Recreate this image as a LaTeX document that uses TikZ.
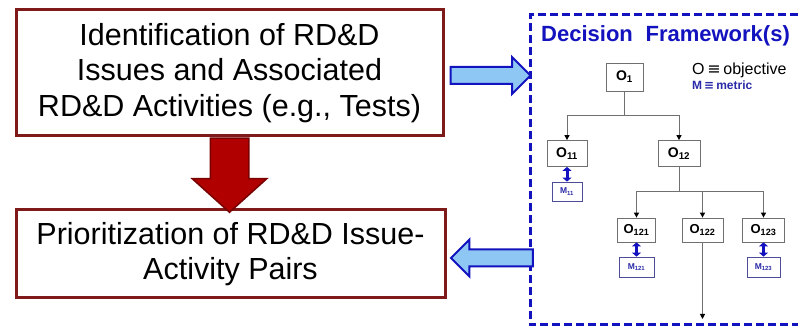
\documentclass[tikz,border=0pt]{standalone}
\usepackage{fontspec}
\setmainfont{Liberation Sans}
\newfontfamily\symfont{DejaVu Sans}
\usetikzlibrary{calc,shapes.arrows,arrows.meta}

\definecolor{boxred}{HTML}{7F1A1A}
\definecolor{arrred}{HTML}{B00000}
\definecolor{arrredline}{HTML}{780000}
\definecolor{fwblue}{HTML}{1212BE}
\definecolor{lblue}{HTML}{8EC6F4}
\definecolor{treegray}{HTML}{707070}
\definecolor{mblue}{HTML}{2A2AA8}

\tikzset{
  bigbox/.style={draw=boxred, line width=3pt, align=center, inner sep=0pt,
    font=\fontsize{30.5}{35.5}\selectfont},
  obox/.style={draw=treegray, line width=0.8pt, fill=white, inner sep=1pt,
    minimum height=26pt, font=\fontsize{14}{15}\bfseries},
  mbox/.style={draw=mblue!60!gray, line width=0.8pt, inner sep=1pt,
    minimum height=19pt, text=mblue, font=\fontsize{8.5}{9}\bfseries},
  tree/.style={draw=treegray, line width=1pt,
    -{Triangle[length=5pt,width=5pt,color=black]}},
  mlink/.style={draw=fwblue, line width=3pt,
    {Triangle[length=4pt,width=9pt]}-{Triangle[length=4pt,width=9pt]}},
  fatarrow/.style={single arrow, draw=fwblue, fill=lblue, line width=2pt,
    inner xsep=0pt, inner ysep=7.5pt, minimum width=35pt,
    single arrow head extend=10pt, single arrow tip angle=90},
  redarrow/.style={single arrow, draw=arrredline, fill=arrred, line width=1.5pt,
    inner xsep=0pt, inner ysep=18.5pt, minimum width=73pt,
    single arrow head extend=18pt, single arrow tip angle=96}
}

\begin{document}
\begin{tikzpicture}[x=1pt,y=-1pt]
\useasboundingbox (0,0) rectangle (798,328);

% left column
\node[bigbox, minimum width=427pt, minimum height=126pt] (ident) at (229.5,73)
  {Identification of RD\&D\\Issues and Associated\\RD\&D Activities (e.g., Tests)};
\node[bigbox, minimum width=429pt, minimum height=88pt] (prior) at (230.5,254)
  {Prioritization of RD\&D Issue-\\Activity Pairs};
\node[redarrow, rotate=-90, anchor=tail, minimum height=74pt] (down) at (ident.south) {};

% decision framework
\draw[fwblue, line width=3pt, dash pattern=on 8pt off 4pt]
  (798,15) -- (530,15) -- (530,325) -- (798,325);
\node[anchor=base west, inner sep=0pt, text=fwblue,
  font=\fontsize{22}{24}\bfseries] (title) at (541,42) {Decision\hspace{0.3em} Framework(s)};
\node[anchor=base west, inner sep=0pt, font=\fontsize{16}{18}\selectfont] (legO) at (692,75)
  {O\,{\symfont ≡}\,objective};
\node[anchor=base west, inner sep=0pt, text=mblue, font=\fontsize{12}{13}\bfseries] (legM) at (692,90)
  {M\,{\symfont ≡}\,metric};

\node[fatarrow, anchor=tail, minimum height=80pt] (toFw) at ([xshift=5pt,yshift=-2.5pt]ident.east) {};
\node[fatarrow, rotate=180, anchor=tip, minimum height=82pt] (fromFw) at ([xshift=3pt,yshift=-4pt]prior.east) {};

% objectives
\node[obox, minimum width=37pt, minimum height=28pt] (o1) at (624.5,77) {O\textsubscript{1}};
\node[obox, minimum width=40pt] (o11) at (567,153.5) {O\textsubscript{11}};
\node[obox, minimum width=42pt] (o12) at (679,153.5) {O\textsubscript{12}};
\node[obox, minimum width=38pt, minimum height=24pt, font=\fontsize{13}{14}\bfseries] (o121) at (636.5,230) {O\textsubscript{121}};
\node[obox, minimum width=41pt, minimum height=24pt, font=\fontsize{13}{14}\bfseries] (o122) at (702.5,230) {O\textsubscript{122}};
\node[obox, minimum width=42pt, minimum height=24pt, font=\fontsize{13}{14}\bfseries] (o123) at (763.5,230) {O\textsubscript{123}};
\coordinate (o122end) at (702.5,319);

% metrics
\node[mbox, minimum width=30pt] (m11) at (567,191.5) {M\textsubscript{11}};
\node[mbox, minimum width=35pt, minimum height=20pt] (m121) at (636.5,267) {M\textsubscript{121}};
\node[mbox, minimum width=33pt, minimum height=20pt] (m123) at (763.5,267) {M\textsubscript{123}};

\foreach \c in {o11,o12}
  \draw[tree] (o1.south) -- ++(0,24) -| (\c.north);
\foreach \c in {o121,o122,o123}
  \draw[tree] (o12.south) -- ++(0,25) -| (\c.north);
\draw[tree] (o122.south) -- (o122end);

\foreach \a/\b in {o11/m11,o121/m121,o123/m123}
  \draw[mlink] (\a.south) -- (\b.north);
\end{tikzpicture}
\end{document}
